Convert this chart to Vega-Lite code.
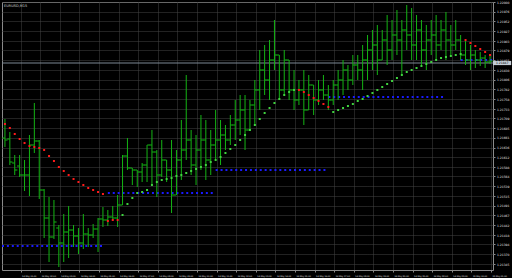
{
  "$schema": "https://vega.github.io/schema/vega-lite/v6.json",
  "width": 491,
  "height": 268,
  "autosize": "none",
  "padding": {"left": 2, "top": 2, "right": 19, "bottom": 8},
  "background": "#000000",
  "title": {"text": "EURUSD,M15", "anchor": "start", "frame": "group", "fontSize": 3.5, "fontWeight": "normal", "color": "#d0d0d0", "offset": -6, "dx": 2, "font": "DejaVu Sans"},
  "config": {
    "view": {"stroke": "#8a8a8a", "strokeWidth": 1},
    "axis": {"domain": false, "grid": true, "gridColor": "#444444", "gridDash": [1, 1], "gridWidth": 1, "tickColor": "#8a8a8a", "tickSize": 2, "labelColor": "#e0e0e0", "labelFont": "DejaVu Sans", "labelOverlap": false, "labelFlush": false}
  },
  "datasets": {
    "bars": [
      {"i":0,"o":1.2166,"h":1.217075,"l":1.216375,"c":1.21655,"s":1.21695,"d":"dn"},
      {"i":1,"o":1.216575,"h":1.21675,"l":1.215925,"c":1.216,"s":1.21685,"d":"dn"},
      {"i":2,"o":1.215975,"h":1.216175,"l":1.215675,"c":1.2158,"s":1.2167,"d":"dn"},
      {"i":3,"o":1.2159,"h":1.216175,"l":1.215625,"c":1.215675,"s":1.216575,"d":"dn"},
      {"i":4,"o":1.215675,"h":1.21605,"l":1.215275,"c":1.215675,"s":1.216475,"d":"dn"},
      {"i":5,"o":1.215675,"h":1.216675,"l":1.21515,"c":1.216425,"s":1.2164,"d":"dn"},
      {"i":6,"o":1.216425,"h":1.217475,"l":1.216225,"c":1.216525,"s":1.216375,"d":"dn"},
      {"i":7,"o":1.216525,"h":1.21655,"l":1.215075,"c":1.2153,"s":1.21635,"d":"dn"},
      {"i":8,"o":1.2153,"h":1.215325,"l":1.2141,"c":1.2146,"s":1.2163,"d":"dn"},
      {"i":9,"o":1.2146,"h":1.215125,"l":1.2135,"c":1.214125,"s":1.21615,"d":"dn"},
      {"i":10,"o":1.214125,"h":1.21505,"l":1.214075,"c":1.2145,"s":1.216025,"d":"dn"},
      {"i":11,"o":1.21435,"h":1.214425,"l":1.213375,"c":1.213975,"s":1.215875,"d":"dn"},
      {"i":12,"o":1.213975,"h":1.2147,"l":1.2135,"c":1.21425,"s":1.215775,"d":"dn"},
      {"i":13,"o":1.21425,"h":1.2149,"l":1.2136,"c":1.2143,"s":1.215675,"d":"dn"},
      {"i":14,"o":1.2143,"h":1.214425,"l":1.213875,"c":1.21415,"s":1.215575,"d":"dn"},
      {"i":15,"o":1.21415,"h":1.21435,"l":1.2137,"c":1.213975,"s":1.2155,"d":"dn"},
      {"i":16,"o":1.213975,"h":1.2147,"l":1.213825,"c":1.2142,"s":1.215425,"d":"dn"},
      {"i":17,"o":1.2142,"h":1.21435,"l":1.213875,"c":1.214175,"s":1.21535,"d":"dn"},
      {"i":18,"o":1.214175,"h":1.21445,"l":1.2141,"c":1.214325,"s":1.2153,"d":"dn"},
      {"i":19,"o":1.214325,"h":1.2146,"l":1.21375,"c":1.214575,"s":1.21525,"d":"dn"},
      {"i":20,"o":1.214575,"h":1.214875,"l":1.214375,"c":1.21455,"s":1.2152,"d":"dn"},
      {"i":21,"o":1.21455,"h":1.2148,"l":1.2144,"c":1.214625,"s":1.214525,"d":"dn"},
      {"i":22,"o":1.214625,"h":1.2149,"l":1.214525,"c":1.2146,"s":1.21455,"d":"dn"},
      {"i":23,"o":1.2146,"h":1.215175,"l":1.214375,"c":1.214925,"s":1.21455,"d":"dn"},
      {"i":24,"o":1.214925,"h":1.216175,"l":1.214925,"c":1.21615,"s":1.214675,"d":"up"},
      {"i":25,"o":1.21615,"h":1.2166,"l":1.2158,"c":1.21585,"s":1.21495,"d":"up"},
      {"i":26,"o":1.21585,"h":1.21585,"l":1.215425,"c":1.2158,"s":1.2151,"d":"up"},
      {"i":27,"o":1.2158,"h":1.2158,"l":1.215375,"c":1.21575,"s":1.215225,"d":"up"},
      {"i":28,"o":1.21575,"h":1.215975,"l":1.2155,"c":1.215925,"s":1.21525,"d":"up"},
      {"i":29,"o":1.215925,"h":1.216425,"l":1.2155,"c":1.216425,"s":1.2153,"d":"up"},
      {"i":30,"o":1.216425,"h":1.2168,"l":1.215425,"c":1.21625,"s":1.215425,"d":"up"},
      {"i":31,"o":1.21625,"h":1.2163,"l":1.215125,"c":1.215675,"s":1.2155,"d":"up"},
      {"i":32,"o":1.215675,"h":1.21655,"l":1.215625,"c":1.21605,"s":1.21555,"d":"up"},
      {"i":33,"o":1.21605,"h":1.21605,"l":1.2155,"c":1.2158,"s":1.215575,"d":"up"},
      {"i":34,"o":1.2158,"h":1.21655,"l":1.214725,"c":1.215175,"s":1.2156,"d":"up"},
      {"i":35,"o":1.215175,"h":1.2163,"l":1.215175,"c":1.21605,"s":1.21565,"d":"up"},
      {"i":36,"o":1.21605,"h":1.21705,"l":1.21555,"c":1.2163,"s":1.215675,"d":"up"},
      {"i":37,"o":1.2163,"h":1.218175,"l":1.21605,"c":1.21655,"s":1.215725,"d":"up"},
      {"i":38,"o":1.21655,"h":1.2168,"l":1.215675,"c":1.215925,"s":1.215775,"d":"up"},
      {"i":39,"o":1.215925,"h":1.216675,"l":1.215425,"c":1.2163,"s":1.215825,"d":"up"},
      {"i":40,"o":1.2163,"h":1.217175,"l":1.2158,"c":1.21655,"s":1.215875,"d":"up"},
      {"i":41,"o":1.21655,"h":1.21705,"l":1.21555,"c":1.21605,"s":1.215925,"d":"up"},
      {"i":42,"o":1.21605,"h":1.2168,"l":1.215675,"c":1.216425,"s":1.216,"d":"up"},
      {"i":43,"o":1.216425,"h":1.2173,"l":1.21605,"c":1.21655,"s":1.21605,"d":"up"},
      {"i":44,"o":1.21655,"h":1.21705,"l":1.215925,"c":1.216675,"s":1.216125,"d":"up"},
      {"i":45,"o":1.216675,"h":1.216925,"l":1.2163,"c":1.21655,"s":1.216225,"d":"up"},
      {"i":46,"o":1.21655,"h":1.217175,"l":1.216425,"c":1.216925,"s":1.216325,"d":"up"},
      {"i":47,"o":1.216925,"h":1.21755,"l":1.21655,"c":1.21705,"s":1.216425,"d":"up"},
      {"i":48,"o":1.21705,"h":1.217675,"l":1.216675,"c":1.2173,"s":1.21655,"d":"up"},
      {"i":49,"o":1.2173,"h":1.217675,"l":1.2163,"c":1.2168,"s":1.216675,"d":"up"},
      {"i":50,"o":1.2168,"h":1.21755,"l":1.2168,"c":1.217425,"s":1.2168,"d":"up"},
      {"i":51,"o":1.217425,"h":1.21805,"l":1.216925,"c":1.2178,"s":1.216925,"d":"up"},
      {"i":52,"o":1.2178,"h":1.2188,"l":1.2173,"c":1.2183,"s":1.217075,"d":"up"},
      {"i":53,"o":1.2183,"h":1.218925,"l":1.217675,"c":1.21805,"s":1.217225,"d":"up"},
      {"i":54,"o":1.21805,"h":1.21905,"l":1.21755,"c":1.21855,"s":1.21735,"d":"up"},
      {"i":55,"o":1.21855,"h":1.21955,"l":1.2183,"c":1.218675,"s":1.217475,"d":"up"},
      {"i":56,"o":1.218675,"h":1.218675,"l":1.21755,"c":1.2178,"s":1.217575,"d":"up"},
      {"i":57,"o":1.2178,"h":1.2188,"l":1.217675,"c":1.21855,"s":1.217675,"d":"up"},
      {"i":58,"o":1.21855,"h":1.21855,"l":1.21755,"c":1.2178,"s":1.21775,"d":"up"},
      {"i":59,"o":1.2178,"h":1.2183,"l":1.2173,"c":1.21755,"s":1.2178,"d":"up"},
      {"i":60,"o":1.21755,"h":1.21805,"l":1.217425,"c":1.2178,"s":1.2178,"d":"dn"},
      {"i":61,"o":1.2178,"h":1.2183,"l":1.216925,"c":1.2173,"s":1.21775,"d":"dn"},
      {"i":62,"o":1.2173,"h":1.218175,"l":1.2173,"c":1.217925,"s":1.217675,"d":"dn"},
      {"i":63,"o":1.217925,"h":1.217925,"l":1.217175,"c":1.21755,"s":1.2176,"d":"dn"},
      {"i":64,"o":1.21755,"h":1.21805,"l":1.217425,"c":1.2178,"s":1.217525,"d":"dn"},
      {"i":65,"o":1.2178,"h":1.218175,"l":1.21755,"c":1.217675,"s":1.21745,"d":"dn"},
      {"i":66,"o":1.217675,"h":1.217925,"l":1.2173,"c":1.21755,"s":1.217375,"d":"dn"},
      {"i":67,"o":1.21755,"h":1.21805,"l":1.217425,"c":1.217925,"s":1.21725,"d":"up"},
      {"i":68,"o":1.217925,"h":1.2183,"l":1.21755,"c":1.21805,"s":1.2173,"d":"up"},
      {"i":69,"o":1.21805,"h":1.21855,"l":1.217675,"c":1.2183,"s":1.21735,"d":"up"},
      {"i":70,"o":1.2183,"h":1.218425,"l":1.2178,"c":1.21805,"s":1.2174,"d":"up"},
      {"i":71,"o":1.21805,"h":1.218675,"l":1.217925,"c":1.218425,"s":1.21745,"d":"up"},
      {"i":72,"o":1.218425,"h":1.218675,"l":1.21805,"c":1.2183,"s":1.217525,"d":"up"},
      {"i":73,"o":1.2183,"h":1.218925,"l":1.2178,"c":1.21855,"s":1.217575,"d":"up"},
      {"i":74,"o":1.21855,"h":1.219175,"l":1.21805,"c":1.2188,"s":1.21765,"d":"up"},
      {"i":75,"o":1.2188,"h":1.2193,"l":1.2183,"c":1.218925,"s":1.217725,"d":"up"},
      {"i":76,"o":1.218925,"h":1.219425,"l":1.218175,"c":1.21855,"s":1.2178,"d":"up"},
      {"i":77,"o":1.21855,"h":1.2193,"l":1.21855,"c":1.21905,"s":1.217875,"d":"up"},
      {"i":78,"o":1.21905,"h":1.219675,"l":1.218425,"c":1.2188,"s":1.21795,"d":"up"},
      {"i":79,"o":1.2188,"h":1.21955,"l":1.21855,"c":1.219175,"s":1.218025,"d":"up"},
      {"i":80,"o":1.219175,"h":1.2198,"l":1.218675,"c":1.21905,"s":1.2181,"d":"up"},
      {"i":81,"o":1.21905,"h":1.21955,"l":1.218175,"c":1.2193,"s":1.218175,"d":"up"},
      {"i":82,"o":1.2193,"h":1.219925,"l":1.2188,"c":1.219175,"s":1.21825,"d":"up"},
      {"i":83,"o":1.219175,"h":1.21985,"l":1.21855,"c":1.218925,"s":1.2183,"d":"up"},
      {"i":84,"o":1.218925,"h":1.219675,"l":1.21855,"c":1.2193,"s":1.21835,"d":"up"},
      {"i":85,"o":1.2193,"h":1.21955,"l":1.218425,"c":1.2188,"s":1.2184,"d":"up"},
      {"i":86,"o":1.2188,"h":1.219425,"l":1.2183,"c":1.21905,"s":1.21845,"d":"up"},
      {"i":87,"o":1.21905,"h":1.21955,"l":1.218675,"c":1.219175,"s":1.2185,"d":"up"},
      {"i":88,"o":1.219175,"h":1.219675,"l":1.21855,"c":1.218925,"s":1.21855,"d":"up"},
      {"i":89,"o":1.218925,"h":1.21955,"l":1.2188,"c":1.2193,"s":1.2186,"d":"up"},
      {"i":90,"o":1.2193,"h":1.21975,"l":1.21855,"c":1.21905,"s":1.218625,"d":"up"},
      {"i":91,"o":1.21905,"h":1.219425,"l":1.218675,"c":1.218925,"s":1.21865,"d":"up"},
      {"i":92,"o":1.218925,"h":1.21955,"l":1.2188,"c":1.21905,"s":1.218675,"d":"up"},
      {"i":93,"o":1.21905,"h":1.219175,"l":1.21855,"c":1.218675,"s":1.2187,"d":"up"},
      {"i":94,"o":1.218675,"h":1.21905,"l":1.218425,"c":1.21855,"s":1.21905,"d":"dn"},
      {"i":95,"o":1.21855,"h":1.218925,"l":1.2183,"c":1.218675,"s":1.218975,"d":"dn"},
      {"i":96,"o":1.218675,"h":1.2188,"l":1.21835,"c":1.21855,"s":1.2189,"d":"dn"},
      {"i":97,"o":1.21855,"h":1.21875,"l":1.2184,"c":1.2186,"s":1.218825,"d":"dn"},
      {"i":98,"o":1.2186,"h":1.218675,"l":1.21835,"c":1.2185,"s":1.21875,"d":"dn"},
      {"i":99,"o":1.2185,"h":1.21865,"l":1.21845,"c":1.218525,"s":1.218675,"d":"dn"}
    ],
    "levels": [
      {"a": -0.6, "b": 20, "v": 1.2139},
      {"a": 21, "b": 43, "v": 1.215225},
      {"a": 43, "b": 66, "v": 1.2158},
      {"a": 66, "b": 90, "v": 1.217625},
      {"a": 93, "b": 99.6, "v": 1.21855}
    ],
    "quote": [{"p": 1.218475}]
  },
  "encoding": {
    "x": {"type": "quantitative", "scale": {"domain": [-0.6, 99.604], "nice": false, "zero": false},
      "axis": {"title": null, "orient": "bottom", "values": [-0.8,3.2,7.2,11.2,15.2,19.2,23.2,27.2,31.2,35.2,39.2,43.2,47.2,51.2,55.2,59.2,63.2,67.2,71.2,75.2,79.2,83.2,87.2,91.2,95.2,99.2],
        "labelExpr": "datum.value < 0 ? '14 May 2021' : timeFormat(datetime(2021, 4, 14, round((datum.value + 0.8) / 4)), '%d %b %H:%M')",
        "labelFontSize": 2.1, "labelAlign": "left", "labelBaseline": "top", "labelPadding": 2, "labelOffset": 1}},
    "y": {"type": "quantitative", "scale": {"domain": [1.2133, 1.22], "nice": false, "zero": false},
      "axis": {"title": null, "orient": "right", "values": [1.22,1.21976,1.21952,1.21927,1.21903,1.21879,1.21855,1.2183,1.21806,1.21782,1.21758,1.21733,1.21709,1.21685,1.21661,1.21636,1.21612,1.21588,1.21564,1.21539,1.21515,1.21491,1.21467,1.21442,1.21418,1.21394,1.2137,1.21345],
        "format": ".5f", "labelFontSize": 3, "labelPadding": 1.5, "labelBaseline": "middle"}}
  },
  "layer": [
    {
      "data": {"name": "levels"},
      "mark": {"type": "rule", "color": "#1a1aff", "strokeWidth": 2, "strokeDash": [2, 2.9]},
      "encoding": {
        "x": {"field": "a"},
        "x2": {"field": "b"},
        "y": {"field": "v"}
      }
    },
    {
      "data": {"name": "quote"},
      "mark": {"type": "rule", "color": "#7c8894", "strokeWidth": 1},
      "encoding": {
        "x": {"datum": -0.6},
        "x2": {"datum": 99.604},
        "y": {"field": "p"}
      }
    },
    {
      "data": {"name": "bars"},
      "mark": {"type": "rule", "color": "#14b414", "strokeWidth": 1},
      "encoding": {
        "x": {"field": "i"},
        "y": {"field": "l"},
        "y2": {"field": "h"}
      }
    },
    {
      "data": {"name": "bars"},
      "mark": {"type": "tick", "orient": "horizontal", "size": 2.5, "thickness": 1, "color": "#14b414", "xOffset": -1.4, "opacity": 1},
      "encoding": {
        "x": {"field": "i"},
        "y": {"field": "o"}
      }
    },
    {
      "data": {"name": "bars"},
      "mark": {"type": "tick", "orient": "horizontal", "size": 2.5, "thickness": 1, "color": "#14b414", "xOffset": 1.4, "opacity": 1},
      "encoding": {
        "x": {"field": "i"},
        "y": {"field": "c"}
      }
    },
    {
      "data": {"name": "bars"},
      "mark": {"type": "square", "size": 4, "opacity": 1},
      "encoding": {
        "x": {"field": "i"},
        "y": {"field": "s"},
        "color": {"field": "d", "type": "nominal", "scale": {"domain": ["dn", "up"], "range": ["#ff1a1a", "#3fd23f"]}, "legend": null}
      }
    },
    {
      "data": {"name": "quote"},
      "mark": {"type": "point", "shape": "M0,-0.3H2.6V0.3H0Z", "size": 196, "filled": true, "color": "#c4ccd4", "opacity": 1, "clip": false},
      "encoding": {
        "x": {"datum": 99.604},
        "y": {"field": "p"}
      }
    },
    {
      "data": {"name": "quote"},
      "mark": {"type": "text", "fontSize": 3, "color": "#000000", "align": "left", "baseline": "middle", "dx": 3, "font": "DejaVu Sans", "clip": false},
      "encoding": {
        "x": {"datum": 99.604},
        "y": {"field": "p"},
        "text": {"field": "p", "type": "quantitative", "format": ".5f"}
      }
    }
  ]
}
